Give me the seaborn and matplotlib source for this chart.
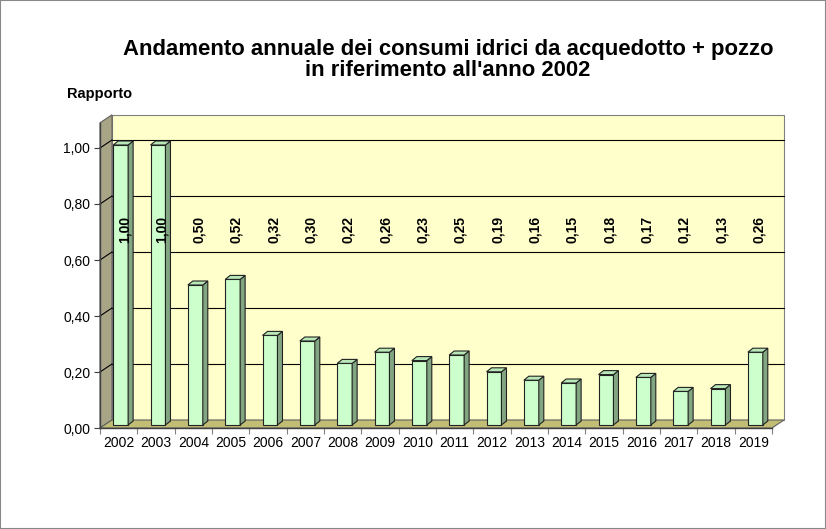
import matplotlib
matplotlib.use('Agg')
import matplotlib.pyplot as plt
import seaborn as sns
import pandas as pd
import numpy as np
from matplotlib.patches import Polygon, Rectangle
from matplotlib.ticker import FixedLocator

years = [str(y) for y in range(2002, 2020)]
values = [1.00, 1.00, 0.50, 0.52, 0.32, 0.30, 0.22, 0.26, 0.23, 0.25,
          0.19, 0.16, 0.15, 0.18, 0.17, 0.12, 0.13, 0.26]
value_labels = [f"{v:.2f}".replace('.', ',') for v in values]
y_ticks = [0.0, 0.2, 0.4, 0.6, 0.8, 1.0]
y_tick_labels = [f"{v:.2f}".replace('.', ',') for v in y_ticks]
title = "Andamento annuale dei consumi idrici da acquedotto + pozzo\nin riferimento all'anno 2002"
y_title = "Rapporto"

sns.set_theme(style='white')
plt.rcParams['font.family'] = ['Liberation Sans', 'DejaVu Sans']
plt.rcParams['text.color'] = 'black'

W, H = 826, 529
YMAX = 1.09
PX_PER_UNIT = 280
fig = plt.figure(figsize=(W / 100, H / 100), dpi=100)
ax = fig.add_axes([100 / W, (H - 428) / H, 672 / W, YMAX * PX_PER_UNIT / H])
ax.patch.set_visible(False)

df = pd.DataFrame({'year': years, 'value': values})
sns.barplot(data=df, x='year', y='value', color='#ccffcc', width=0.4,
            edgecolor='#222222', linewidth=0.8, saturation=1, ax=ax, zorder=3)
bars = list(ax.patches)
ax.set_xlim(-0.5, len(years) - 0.5)
ax.set_ylim(0, YMAX)
ax.set_xlabel('')
ax.set_ylabel('')

# pixel -> data conversions
px_x = (672 / len(years))
px_y = PX_PER_UNIT
ddx, ddy = 12 / px_x, 8 / px_y       # wall depth
bdx, bdy = 5 / px_x, 4 / px_y        # bar depth
sx, sy = 2 / px_x, 3 / px_y          # bars sit slightly behind front
x0a, x1a = ax.get_xlim()
ytop = ax.get_ylim()[1]

# walls and floor
ax.add_patch(Polygon([(x0a + ddx, ddy), (x1a + ddx, ddy), (x1a + ddx, ytop + ddy), (x0a + ddx, ytop + ddy)],
                     closed=True, facecolor='#ffffcc', edgecolor='#808080', lw=0.8, zorder=0, clip_on=False))
ax.add_patch(Polygon([(x0a, 0), (x0a, ytop), (x0a + ddx, ytop + ddy), (x0a + ddx, ddy)],
                     closed=True, facecolor='#a8a586', edgecolor='#606060', lw=0.8, zorder=0, clip_on=False))
ax.add_patch(Polygon([(x0a, 0), (x1a, 0), (x1a + ddx, ddy), (x0a + ddx, ddy)],
                     closed=True, facecolor='#c2bd74', edgecolor='#606060', lw=0.8, zorder=0.5, clip_on=False))

# gridlines on back wall and side wall
for v in y_ticks[1:]:
    ax.plot([x0a + ddx, x1a + ddx], [v + ddy, v + ddy], color='#000000', lw=0.8, zorder=1, clip_on=False)
    ax.plot([x0a, x0a + ddx], [v, v + ddy], color='#000000', lw=0.8, zorder=1, clip_on=False)

# 3D faces for bars
for p in bars:
    x0 = p.get_x() + sx
    w = p.get_width()
    h = p.get_height() + sy
    p.set_x(x0)
    p.set_y(sy)
    ax.add_patch(Polygon([(x0 + w, sy), (x0 + w + bdx, sy + bdy), (x0 + w + bdx, h + bdy), (x0 + w, h)],
                         closed=True, facecolor='#82a682', edgecolor='#222222', lw=0.8, zorder=3))
    ax.add_patch(Polygon([(x0, h), (x0 + w, h), (x0 + w + bdx, h + bdy), (x0 + bdx, h + bdy)],
                         closed=True, facecolor='#b8e8b8', edgecolor='#222222', lw=0.8, zorder=3))

# value labels
for i, lab in enumerate(value_labels):
    ax.text(i + 0.15, 0.71, lab, rotation=90, ha='center', va='center',
            fontsize=10, fontweight='bold', color='black', zorder=5)

# spines & ticks
for s in ['top', 'right']:
    ax.spines[s].set_visible(False)
for s in ['left', 'bottom']:
    ax.spines[s].set_visible(True)
    ax.spines[s].set_color('#404040')
    ax.spines[s].set_linewidth(1.0)
    ax.spines[s].set_zorder(2)

ax.set_yticks(y_ticks)
ax.set_yticklabels(y_tick_labels)
ax.tick_params(axis='y', left=True, length=4, width=0.8, color='#404040', labelsize=10, pad=3, labelcolor='black')
ax.set_xticks(range(len(years)))
ax.set_xticklabels(years)
ax.xaxis.set_minor_locator(FixedLocator(np.arange(-0.5, len(years), 1.0)))
ax.tick_params(axis='x', which='major', bottom=True, length=0, labelsize=10, pad=6, labelcolor='black')
ax.tick_params(axis='x', which='minor', bottom=True, length=4, width=0.8, color='#808080')

fig.text(448 / W, 1 - 60 / H, title, ha='center', va='center', fontsize=15.9,
         fontweight='bold', linespacing=1.05, color='black')
fig.text(100 / W, 1 - 94 / H, y_title, ha='center', va='center', fontsize=10.5,
         fontweight='bold', color='black')

fig.patches.append(Rectangle((0, 0), 1, 1, transform=fig.transFigure, fill=False,
                             edgecolor='#888888', lw=1.5))

fig.savefig('out.png', dpi=100)
